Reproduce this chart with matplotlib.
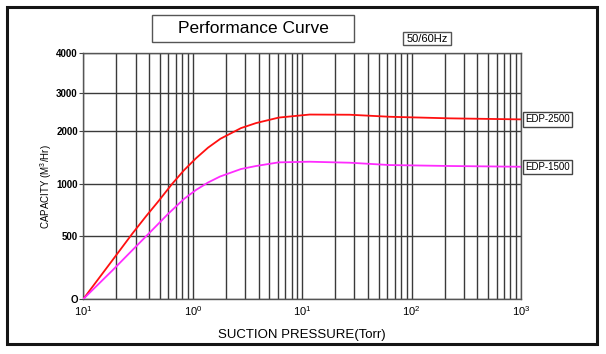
import numpy as np
import matplotlib.pyplot as plt
from matplotlib.patches import Rectangle
from matplotlib.ticker import FixedLocator, NullFormatter, LogLocator

plt.rcParams['font.family'] = ['Liberation Sans', 'DejaVu Sans']
plt.rcParams['mathtext.fontset'] = 'custom'
plt.rcParams['mathtext.rm'] = 'Liberation Sans'
plt.rcParams['mathtext.it'] = 'Liberation Sans'

# suction pressure (Torr) and capacity
pressure_2500 = [0.1, 0.186, 0.279, 0.374, 0.482, 0.647, 0.832, 1.072, 1.38, 1.79, 2.76, 3.79,
                 6.11, 11.7, 27.3, 63.3, 224, 1000]
capacity_2500 = [0, 313, 522, 691, 831, 1000, 1260, 1487, 1687, 1855, 2078, 2209,
                 2352, 2431, 2426, 2373, 2332, 2305]

pressure_1500 = [0.1, 0.186, 0.279, 0.369, 0.594, 0.832, 1.072, 1.38, 1.776, 2.76, 3.79,
                 6.11, 11.7, 27.3, 63.3, 224, 1000]
capacity_1500 = [0, 231, 387, 494, 713, 857, 943, 1028, 1141, 1283, 1340,
                 1409, 1421, 1402, 1358, 1340, 1326]

# y axis of the original is not linear: tick value -> relative height
y_ticks = [0, 500, 1000, 2000, 3000, 4000]
y_tick_labels = ['O', '500', '1000', '2000', '3000', '4000']
y_rel = [0, 0.255, 0.4675, 0.6825, 0.8386, 1.0]

x_ticks = [0.1, 1, 10, 100, 1000]
x_tick_labels = [r'$10^{1}$', r'$10^{0}$', r'$10^{1}$', r'$10^{2}$', r'$10^{3}$']


def y_forward(v):
    return np.interp(v, y_ticks, y_rel)


def y_inverse(r):
    return np.interp(r, y_rel, y_ticks)


fig = plt.figure(figsize=(6.06, 3.54), dpi=100)
ax = fig.add_axes([0.1375, 0.1554, 0.7222, 0.6949])

ax.set_xscale('log')
ax.set_yscale('function', functions=(y_forward, y_inverse))
ax.set_xlim(0.1, 1000)
ax.set_ylim(0, 4000)

ax.plot(pressure_2500, capacity_2500, color='#ff1010', lw=1.3, zorder=3)
ax.plot(pressure_1500, capacity_1500, color='#ff2cff', lw=1.3, zorder=3)

ax.xaxis.set_major_locator(FixedLocator(x_ticks))
ax.set_xticklabels(x_tick_labels, fontsize=8)
ax.xaxis.set_minor_locator(LogLocator(base=10, subs=np.arange(2, 10)))
ax.xaxis.set_minor_formatter(NullFormatter())
ax.yaxis.set_major_locator(FixedLocator(y_ticks))
ax.set_yticklabels(y_tick_labels, fontsize=7, fontweight='bold')
ax.yaxis.set_minor_locator(FixedLocator([]))

ax.tick_params(axis='x', which='both', length=0, pad=4)
ax.tick_params(axis='y', length=3, width=0.8, color='#444444', pad=1)

ax.grid(True, which='major', color='#3a3a3a', lw=1.0)
ax.grid(True, which='minor', axis='x', color='#3a3a3a', lw=1.0)
for s in ax.spines.values():
    s.set_color('#555555')
    s.set_linewidth(1.0)

ax.set_xlabel('SUCTION PRESSURE(Torr)', fontsize=9.5, labelpad=8)
ax.set_ylabel('CAPACITY (M$^{3}$/Hr)', fontsize=7)
ax.yaxis.set_label_coords(-0.067, 0.455)

# curve name boxes at right end
for lab, val in [('EDP-2500', capacity_2500[-1]), ('EDP-1500', capacity_1500[-1])]:
    ax.text(1.01, y_forward(val), lab, transform=ax.transAxes, fontsize=7,
            va='center', ha='left',
            bbox=dict(boxstyle='square,pad=0.22', fc='white', ec='#444444', lw=1))

# title and frequency boxes
W, H = 606, 354
fig.add_artist(Rectangle((152 / W, 1 - 42 / H), 202 / W, 27 / H, transform=fig.transFigure,
                         fill=False, ec='#555555', lw=1))
fig.text(253 / W, 1 - 28.5 / H, 'Performance Curve', fontsize=12.5, ha='center', va='center')
fig.add_artist(Rectangle((403 / W, 1 - 45 / H), 48 / W, 13 / H, transform=fig.transFigure,
                         fill=False, ec='#555555', lw=1))
fig.text(427 / W, 1 - 38.5 / H, '50/60Hz', fontsize=8, ha='center', va='center')

# outer frame
fig.add_artist(Rectangle((7 / W, 1 - 344 / H), 590 / W, 337 / H, transform=fig.transFigure,
                         fill=False, ec='#151515', lw=2.2))

fig.savefig('out.png', dpi=100)
